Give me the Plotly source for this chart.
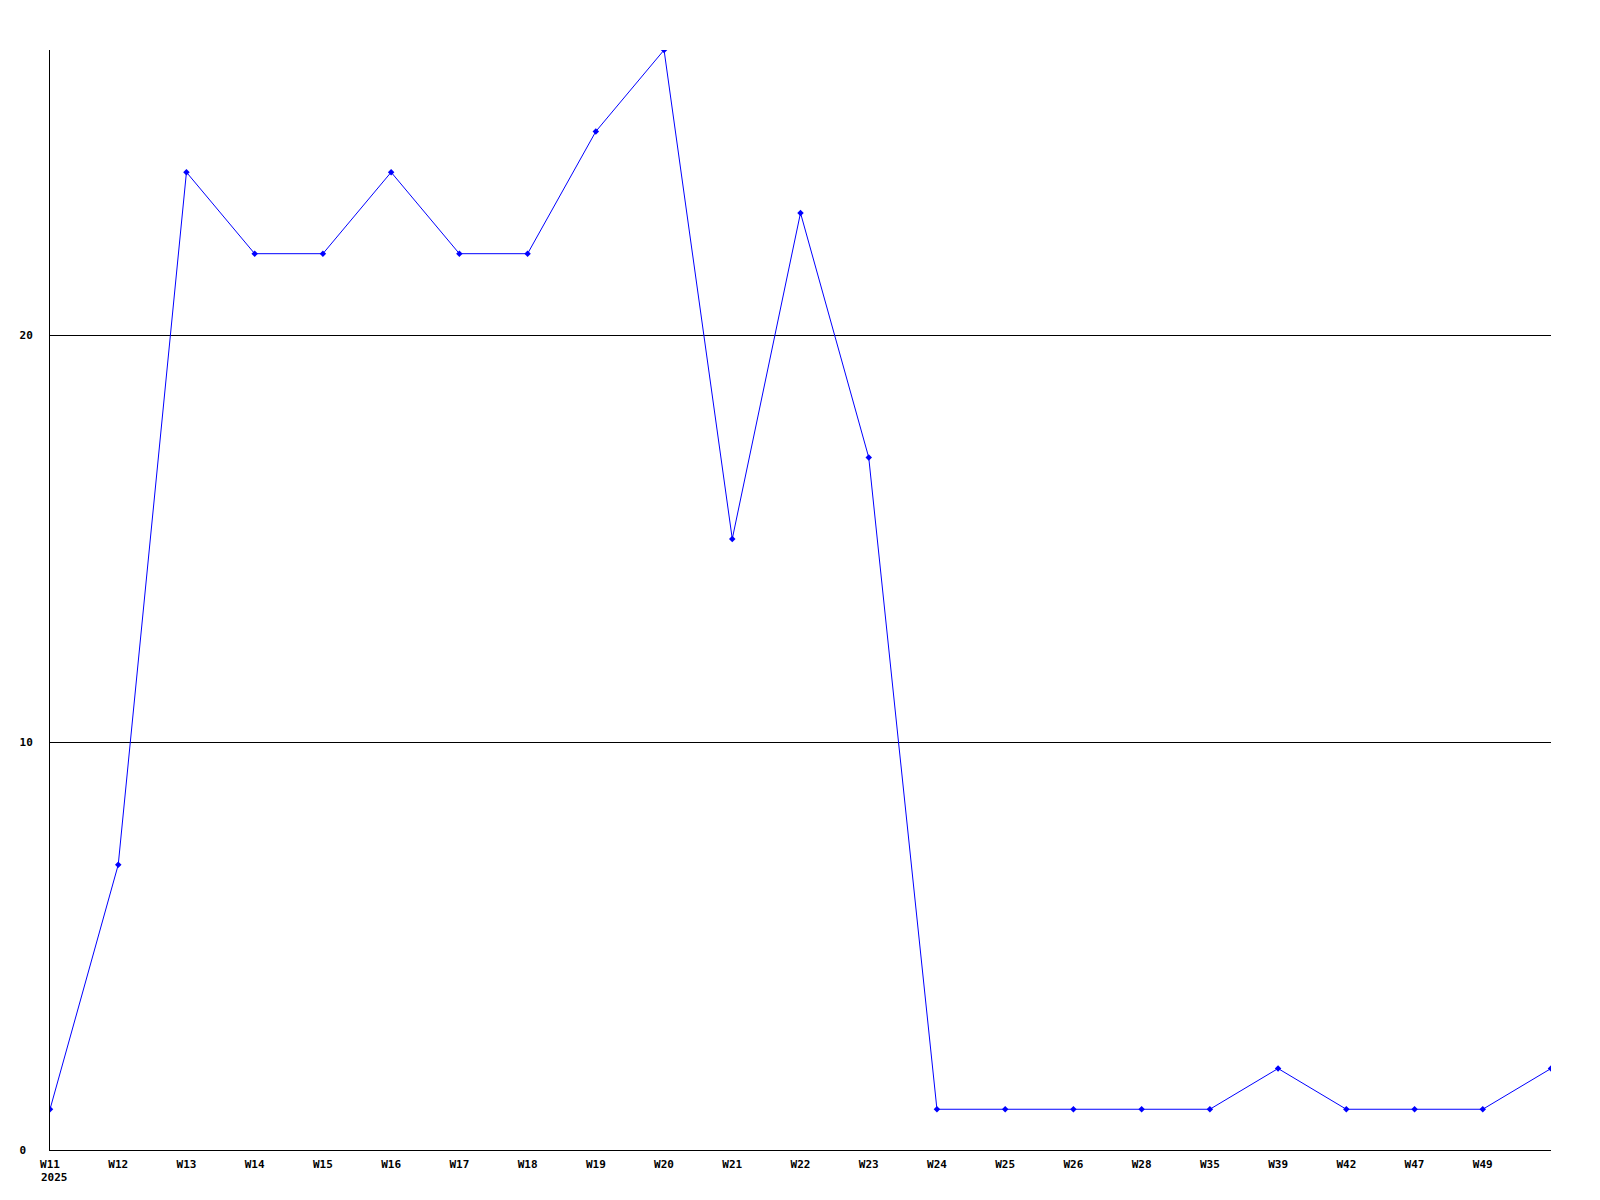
import plotly.graph_objects as go

weeks = ["W11", "W12", "W13", "W14", "W15", "W16", "W17", "W18", "W19", "W20", "W21",
         "W22", "W23", "W24", "W25", "W26", "W28", "W35", "W39", "W42", "W47", "W49", "W51"]
counts = [1, 7, 24, 22, 22, 24, 22, 22, 25, 27, 15, 23, 17, 1, 1, 1, 1, 1, 2, 1, 1, 1, 2]
tick_labels = weeks[:-1]
year_label = "2025"
y_ticks = [0, 10, 20]
y_tick_text = ["0\u00a0", "10", "20"]

font_bold = dict(family="DejaVu Sans Mono", size=11, color="black", weight="bold")

fig = go.Figure()
fig.add_trace(go.Scatter(
    x=list(range(len(weeks))),
    y=counts,
    mode="lines+markers",
    line=dict(color="#0000ff", width=1),
    marker=dict(symbol="diamond", size=5, color="#0000ff"),
    hovertext=weeks,
))

# year under the first week label, left aligned with it
fig.add_annotation(
    x=0, y=0, xref="x", yref="paper",
    text=year_label, showarrow=False,
    xanchor="left", yanchor="middle",
    xshift=-11, yshift=-27,
    font=font_bold,
)

fig.update_layout(
    width=1584,
    height=1184,
    paper_bgcolor="white",
    plot_bgcolor="white",
    showlegend=False,
    margin=dict(l=42, r=41, t=42, b=42, autoexpand=False),
    font=dict(family="DejaVu Sans Mono", size=11, color="black"),
    xaxis=dict(
        range=[0, len(weeks) - 1],
        tickmode="array",
        tickvals=list(range(len(weeks) - 1)),
        ticktext=tick_labels,
        showgrid=False,
        zeroline=False,
        showline=True,
        linecolor="black",
        linewidth=1,
        ticks="",
        ticklabelstandoff=4,
        automargin=False,
        tickfont=font_bold,
    ),
    yaxis=dict(
        range=[0, 27],
        tickmode="array",
        tickvals=y_ticks,
        ticktext=y_tick_text,
        showgrid=True,
        gridcolor="black",
        gridwidth=1,
        zeroline=False,
        showline=True,
        linecolor="black",
        linewidth=1,
        ticks="",
        ticklabelstandoff=14,
        automargin=False,
        tickfont=font_bold,
    ),
)

fig.write_html("out.html")
